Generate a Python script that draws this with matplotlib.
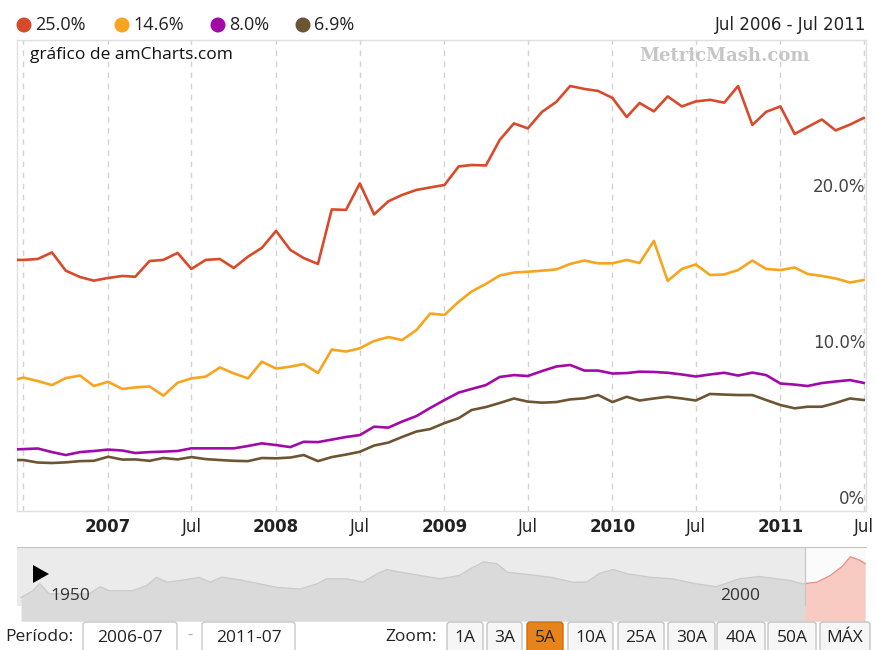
import matplotlib
matplotlib.use('Agg')
import matplotlib.pyplot as plt
import matplotlib.transforms as mtransforms
from matplotlib.patches import Circle, Rectangle, FancyBboxPatch, Polygon
import pandas as pd

# ---------------- data ----------------
dates = pd.date_range('2006-06-01', '2011-07-01', freq='MS')

red = [15.89, 15.89, 15.95, 16.37, 15.20, 14.79, 14.56, 14.73, 14.86, 14.81,
       15.82, 15.89, 16.34, 15.31, 15.89, 15.95, 15.37, 16.10, 16.66, 17.75,
       16.53, 16.01, 15.63, 19.13, 19.10, 20.80, 18.81, 19.65, 20.06, 20.38,
       20.54, 20.70, 21.89, 21.98, 21.95, 23.59, 24.65, 24.33, 25.39, 26.03,
       27.05, 26.86, 26.73, 26.28, 25.06, 25.96, 25.42, 26.38, 25.74, 26.06,
       26.16, 25.98, 27.05, 24.55, 25.39, 25.74, 23.97, 24.42, 24.90, 24.20,
       24.57, 25.0]
orange = [8.12, 8.34, 8.12, 7.86, 8.31, 8.47, 7.80, 8.07, 7.61, 7.71,
          7.77, 7.18, 8.01, 8.29, 8.40, 8.99, 8.61, 8.29, 9.36, 8.92,
          9.04, 9.21, 8.63, 10.14, 10.01, 10.22, 10.69, 10.94, 10.75, 11.39,
          12.45, 12.36, 13.21, 13.86, 14.35, 14.89, 15.08, 15.13, 15.20, 15.28,
          15.63, 15.85, 15.67, 15.67, 15.89, 15.69, 17.11, 14.54, 15.31, 15.60,
          14.92, 14.96, 15.24, 15.85, 15.31, 15.24, 15.40, 14.99, 14.86, 14.70,
          14.44, 14.6]
purple = [3.72, 3.75, 3.79, 3.56, 3.37, 3.56, 3.63, 3.72, 3.66, 3.50,
          3.56, 3.59, 3.63, 3.80, 3.80, 3.80, 3.80, 3.95, 4.12, 4.01,
          3.88, 4.22, 4.20, 4.36, 4.53, 4.65, 5.19, 5.13, 5.52, 5.87,
          6.39, 6.90, 7.38, 7.61, 7.86, 8.38, 8.50, 8.44, 8.76, 9.05,
          9.15, 8.79, 8.79, 8.60, 8.63, 8.72, 8.70, 8.65, 8.54, 8.41,
          8.54, 8.65, 8.47, 8.66, 8.50, 7.96, 7.89, 7.80, 7.99, 8.09,
          8.18, 8.0]
brown = [3.05, 3.05, 2.89, 2.86, 2.90, 2.98, 3.00, 3.26, 3.08, 3.09,
         3.00, 3.18, 3.09, 3.24, 3.11, 3.05, 3.00, 2.98, 3.18, 3.16,
         3.21, 3.37, 2.98, 3.24, 3.40, 3.58, 3.98, 4.17, 4.53, 4.88,
         5.04, 5.42, 5.74, 6.26, 6.45, 6.71, 7.00, 6.80, 6.73, 6.77,
         6.94, 7.01, 7.22, 6.77, 7.11, 6.87, 7.00, 7.11, 7.00, 6.87,
         7.29, 7.25, 7.22, 7.22, 6.90, 6.58, 6.37, 6.47, 6.47, 6.71,
         7.00, 6.9]
series_colors = ['#d84a2c', '#f7a51f', '#a10aa8', '#6d5533']

xtick_dates = pd.to_datetime(['2006-07-01', '2007-01-01', '2007-07-01', '2008-01-01',
                              '2008-07-01', '2009-01-01', '2009-07-01', '2010-01-01',
                              '2010-07-01', '2011-01-01', '2011-07-01'])
xtick_labels = ['', '2007', 'Jul', '2008', 'Jul', '2009', 'Jul', '2010', 'Jul', '2011', 'Jul']
ytick_vals = [0, 10, 20]
ytick_labels = ['0%', '10.0%', '20.0%']

nav_years = [1948.0, 1948.9, 1949.4, 1950.1, 1953.1, 1953.9, 1954.6, 1956.3, 1957.4, 1958.1,
             1958.9, 1959.9, 1961.3, 1962.1, 1963.0, 1964.3, 1965.8, 1967.1, 1968.8, 1970.1,
             1970.8, 1972.3, 1973.5, 1974.6, 1975.3, 1976.3, 1977.8, 1979.3, 1980.7, 1981.7,
             1982.5, 1983.5, 1984.3, 1985.7, 1987.5, 1989.2, 1990.2, 1991.2, 1992.2, 1993.2,
             1994.9, 1996.6, 1998.4, 1999.9, 2001.6, 2003.1, 2004.4, 2005.4, 2006.3, 2007.4,
             2008.4, 2009.3, 2009.9, 2010.6, 2011.0]
nav_vals = [10.0, 12.8, 15.8, 11.5, 11.5, 14.5, 12.8, 12.8, 15.0, 18.4,
            16.4, 17.1, 18.4, 16.4, 18.5, 17.4, 15.7, 14.2, 13.5, 15.7,
            17.8, 17.8, 16.4, 20.0, 21.7, 20.6, 19.2, 17.8, 19.2, 22.5,
            24.9, 24.2, 20.6, 19.7, 18.5, 16.4, 16.4, 20.2, 21.7, 20.0,
            18.5, 17.8, 15.7, 14.5, 17.8, 18.8, 17.8, 17.1, 15.7, 16.4,
            19.2, 23.1, 27.1, 25.6, 24.2]
nav_label_years = [1950, 2000]
nav_sel_start = 2006.5

range_text = 'Jul 2006 - Jul 2011'
period_from = '2006-07'
period_to = '2011-07'
zoom_labels = ['1A', '3A', '5A', '10A', '25A', '30A', '40A', '50A', 'MÁX']
selected_zoom = '5A'

# ---------------- figure ----------------
W, H = 876, 650
fig = plt.figure(figsize=(W / 100, H / 100), dpi=100)
fig.patch.set_facecolor('white')
OPEN = ['Open Sans', 'DejaVu Sans']

# main chart
ax = fig.add_axes([17 / W, 1 - 511 / H, 849 / W, 471 / H])
for s, c in zip([red, orange, purple, brown], series_colors):
    ax.plot(dates, s, color=c, lw=1.9, solid_joinstyle='round', zorder=3)
ax.set_xlim(pd.Timestamp('2006-06-17'), pd.Timestamp('2011-07-06'))
ax.set_ylim(-0.22, 30.0)
ax.set_xticks(xtick_dates)
ax.set_xticklabels(xtick_labels)
for lab in ax.get_xticklabels():
    if lab.get_text().isdigit():
        lab.set_fontweight('bold')
ax.tick_params(axis='x', length=0, pad=5, labelsize=12, labelcolor='#222222')
ax.set_yticks([])
ax.grid(axis='x', color='#d2d2d2', linestyle=(0, (4, 4)), lw=1)
for sp in ax.spines.values():
    sp.set_color('#e0e0e0')
    sp.set_linewidth(1)
trans = mtransforms.blended_transform_factory(ax.transAxes, ax.transData)
for v, l in zip(ytick_vals, ytick_labels):
    ax.text(0.999, v, l, transform=trans, ha='right', va='bottom',
            fontsize=12, color='#444444', zorder=4)

# navigator
nav = fig.add_axes([17 / W, 1 - 606 / H, 849 / W, 59 / H])
nav_lo, nav_hi = 1947.7, 2011.06
nav.set_xlim(nav_lo, nav_hi)
nav.set_ylim(6.4, 31.2)
nav.set_xticks([])
nav.set_yticks([])
for k, sp in nav.spines.items():
    sp.set_visible(k == 'top')
nav.spines['top'].set_color('#c4c4c4')
nav.axvspan(nav_lo, nav_sel_start, color='#ebebeb', lw=0, zorder=0)
nav.axvspan(nav_sel_start, nav_hi, color='#fbfbfb', lw=0, zorder=0)
clipL = Rectangle((nav_lo, 0), nav_sel_start - nav_lo, 100, transform=nav.transData)
clipR = Rectangle((nav_sel_start, 0), nav_hi - nav_sel_start, 100, transform=nav.transData)
f1 = nav.fill_between(nav_years, nav_vals, 0, color='#dadada', lw=0, zorder=1)
f1.set_clip_path(clipL)
l1, = nav.plot(nav_years, nav_vals, color='#cbcbcb', lw=1, zorder=2)
l1.set_clip_path(clipL)
f2 = nav.fill_between(nav_years, nav_vals, 0, color='#f7cbc2', lw=0, zorder=1)
f2.set_clip_path(clipR)
l2, = nav.plot(nav_years, nav_vals, color='#e8937f', lw=1, zorder=2)
l2.set_clip_path(clipR)
nav.axvline(nav_sel_start, color='#c8c8c8', lw=1, zorder=3)
ntrans = mtransforms.blended_transform_factory(nav.transData, nav.transAxes)
for yr in nav_label_years:
    nav.text(yr + 0.2, 0.17, str(yr), transform=ntrans, ha='left', va='center',
             fontsize=12.5, family=OPEN, color='#333333', zorder=4)

# overlay in pixel coordinates
ov = fig.add_axes([0, 0, 1, 1], zorder=5)
ov.set_xlim(0, W)
ov.set_ylim(H, 0)
ov.axis('off')

legend_x = [24, 122, 218, 303]
for cx, s, c in zip(legend_x, [red, orange, purple, brown], series_colors):
    ov.add_patch(Circle((cx, 25), 7.5, color=c, lw=0))
    ov.text(cx + 11, 25, f'{s[-1]:.1f}%', ha='left', va='center',
            fontsize=13, family=OPEN, color='#222222')
ov.text(866, 25, range_text, ha='right', va='center', fontsize=12, color='#222222')
ov.text(30, 55, 'gráfico de amCharts.com', ha='left', va='center',
        fontsize=12.5, family=OPEN, color='#111111')
ov.text(724, 56, 'MetricMash.com', ha='center', va='center', fontsize=13,
        family='DejaVu Serif', fontweight='bold', color='#c6c6c6')

# play triangle on navigator
ov.add_patch(Polygon([(33, 565), (33, 583), (49, 574)], closed=True, color='black', lw=0))

# bottom controls
ov.text(5, 637, 'Período:', ha='left', va='center', fontsize=12.5, family=OPEN, color='#222222')
for x0, w, t in [(83, 94, period_from), (202, 93, period_to)]:
    ov.add_patch(FancyBboxPatch((x0, 622), w, 40, boxstyle='round,pad=0,rounding_size=3',
                                fc='white', ec='#c8c8c8', lw=1))
    ov.text(x0 + w / 2, 638, t, ha='center', va='center', fontsize=12.5, family=OPEN, color='#222222')
ov.text(190, 636, '-', ha='center', va='center', fontsize=12, family=OPEN, color='#aaaaaa')
ov.text(437, 637, 'Zoom:', ha='right', va='center', fontsize=12.5, family=OPEN, color='#222222')
btn_left = [447, 487, 527, 568, 618, 668, 717, 768, 820]
btn_w = [36, 35, 36, 45, 46, 47, 48, 48, 50]
for x0, w, t in zip(btn_left, btn_w, zoom_labels):
    sel = (t == selected_zoom)
    ov.add_patch(FancyBboxPatch((x0, 622), w, 40, boxstyle='round,pad=0,rounding_size=3',
                                fc='#e6841a' if sel else '#f6f6f6',
                                ec='#c87012' if sel else '#c4c4c4', lw=1))
    ov.text(x0 + w / 2, 638, t, ha='center', va='center', fontsize=12.5, family=OPEN,
            color='#222222')

fig.savefig('out.png', dpi=100, facecolor='white')
